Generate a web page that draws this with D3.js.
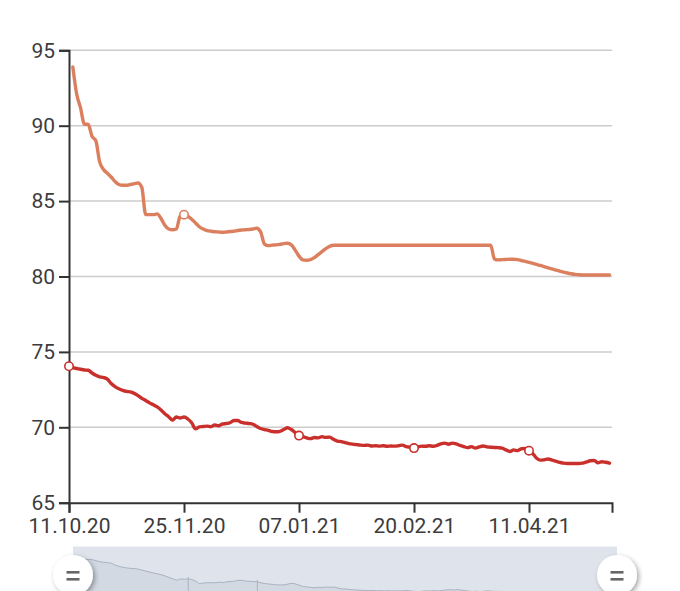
<!DOCTYPE html>
<html>
<head>
<meta charset="utf-8">
<script src="https://cdn.jsdelivr.net/npm/d3@7"></script>
<style>
  html, body { margin: 0; padding: 0; background: #fff; }
  svg { display: block; font-family: Roboto, "Noto Sans", sans-serif; }
</style>
</head>
<body>
<svg id="chart" width="680" height="591"></svg>
<script>
// ---- data ----
const tickIndex = [0, 30, 60, 90, 120];
const tickLabels = ["11.10.20", "25.11.20", "07.01.21", "20.02.21", "11.04.21"];
const xEnd = 141.65;
const yTicks = [65, 70, 75, 80, 85, 90, 95];

const seriesOrange = [null,
  93.9, 92.1, 91.2, 90.1, 90.1, 89.3, 89.0, 87.6, 87.1, 86.85,
  86.6, 86.3, 86.1, 86.05, 86.05, 86.1, 86.15, 86.2, 85.9, 84.1,
  84.1, 84.1, 84.15, 83.85, 83.4, 83.15, 83.1, 83.15, 84.0, 84.1,
  84.0, 83.8, 83.55, 83.3, 83.15, 83.05, 83.0, 82.97, 82.95, 82.93,
  82.95, 82.98, 83.0, 83.05, 83.08, 83.1, 83.12, 83.15, 83.2, 82.95,
  82.15, 82.05, 82.08, 82.1, 82.13, 82.18, 82.2, 82.1, 81.75, 81.35,
  81.1, 81.08, 81.12, 81.25, 81.45, 81.65, 81.85, 82.0, 82.07, 82.07,
  82.07, 82.07, 82.07, 82.07, 82.07, 82.07, 82.07, 82.07, 82.07, 82.07,
  82.07, 82.07, 82.07, 82.07, 82.07, 82.07, 82.07, 82.07, 82.07, 82.07,
  82.07, 82.07, 82.07, 82.07, 82.07, 82.07, 82.07, 82.07, 82.07, 82.07,
  82.07, 82.07, 82.07, 82.07, 82.07, 82.07, 82.07, 82.07, 82.07, 82.07,
  81.15, 81.1, 81.12, 81.13, 81.14, 81.14, 81.12, 81.06, 81.0,
  80.93, 80.87, 80.8, 80.73, 80.65, 80.57, 80.5, 80.43, 80.36, 80.29,
  80.23, 80.18, 80.14, 80.12, 80.1, 80.1, 80.1, 80.1, 80.1, 80.1,
  80.1, 80.1
];

const seriesRed = [
  74.05, 73.95, 73.9, 73.85, 73.8, 73.78, 73.6, 73.45, 73.35, 73.3,
  73.2, 72.9, 72.7, 72.55, 72.45, 72.38, 72.35, 72.25, 72.1, 71.92,
  71.78, 71.62, 71.5, 71.35, 71.15, 70.9, 70.7, 70.48, 70.68, 70.62,
  70.68, 70.55, 70.3, 69.9, 70.03, 70.05, 70.08, 70.04, 70.15, 70.1,
  70.22, 70.25, 70.3, 70.45, 70.45, 70.32, 70.28, 70.25, 70.2, 70.05,
  69.92, 69.85, 69.8, 69.72, 69.7, 69.73, 69.85, 69.97, 69.85, 69.65,
  69.45, 69.38, 69.3, 69.25, 69.32, 69.3, 69.38, 69.33, 69.35, 69.2,
  69.08, 69.05, 68.98, 68.92, 68.88, 68.85, 68.82, 68.8, 68.82, 68.76,
  68.78, 68.75, 68.78, 68.74, 68.76, 68.75, 68.78, 68.82, 68.72, 68.68,
  68.62, 68.7, 68.75, 68.74, 68.78, 68.74, 68.8, 68.9, 68.95, 68.88,
  68.95, 68.9, 68.8, 68.72, 68.65, 68.72, 68.62, 68.7, 68.76, 68.7,
  68.68, 68.66, 68.65, 68.62, 68.5, 68.4, 68.5, 68.45, 68.58, 68.6,
  68.45, 68.25, 67.95, 67.82, 67.85, 67.9, 67.82, 67.75, 67.68, 67.62,
  67.6, 67.6, 67.6, 67.6, 67.62, 67.7, 67.78, 67.8, 67.65, 67.72,
  67.68, 67.62
];

const markersOrange = [30];
const markersRed = [0, 60, 90, 120];
const navBreaks = [30, 48];

// ---- drawing ----
const svg = d3.select("#chart");
const x = d3.scaleLinear().domain([0, xEnd]).range([69, 612]);
const y = d3.scaleLinear().domain([65, 95]).range([502.7, 50.3]);

const colOrange = "#dc7f5f";
const colRed = "#c9302c";

// gridlines
svg.append("g").selectAll("line").data(yTicks.filter(v => v !== 65)).join("line")
  .attr("x1", x(0)).attr("x2", x(xEnd))
  .attr("y1", d => y(d)).attr("y2", d => y(d))
  .attr("stroke", "#cccccc").attr("stroke-width", 1.5);

// y axis
const yAxis = svg.append("g").attr("transform", `translate(${x(0)},0)`)
  .call(d3.axisLeft(y).tickValues(yTicks).tickSize(10).tickSizeOuter(10).tickPadding(4));
// x axis
const xAxis = svg.append("g").attr("transform", `translate(0,${y(65)})`)
  .call(d3.axisBottom(x).tickValues(tickIndex).tickFormat((d, i) => tickLabels[i])
    .tickSize(10).tickSizeOuter(10).tickPadding(5));

[yAxis, xAxis].forEach(g => {
  g.selectAll("path.domain").attr("stroke", "#333").attr("stroke-width", 2);
  g.selectAll(".tick line").attr("stroke", "#333").attr("stroke-width", 2);
  g.selectAll(".tick text").attr("fill", "#3c3c3c")
    .style("font-size", "21px").style("font-family", "Roboto, sans-serif");
});

// lines
const line = d3.line()
  .defined(d => d != null)
  .x((d, i) => x(i)).y(d => y(d))
  .curve(d3.curveMonotoneX);

svg.append("path").datum(seriesOrange)
  .attr("d", line).attr("fill", "none")
  .attr("stroke", colOrange).attr("stroke-width", 3.4)
  .attr("stroke-linejoin", "round").attr("stroke-linecap", "round");

svg.append("path").datum(seriesRed)
  .attr("d", line).attr("fill", "none")
  .attr("stroke", colRed).attr("stroke-width", 3.4)
  .attr("stroke-linejoin", "round").attr("stroke-linecap", "round");

svg.append("g").selectAll("circle").data(markersOrange).join("circle")
  .attr("cx", d => x(d)).attr("cy", d => y(seriesOrange[d]))
  .attr("r", 4.2).attr("fill", "#fff").attr("stroke", colOrange).attr("stroke-width", 1.6);
svg.append("g").selectAll("circle").data(markersRed).join("circle")
  .attr("cx", d => x(d)).attr("cy", d => y(seriesRed[d]))
  .attr("r", 4.2).attr("fill", "#fff").attr("stroke", colRed).attr("stroke-width", 1.6);

// ---- navigator ----
const defs = svg.append("defs");
const f = defs.append("filter").attr("id", "sh").attr("x", "-50%").attr("y", "-50%")
  .attr("width", "200%").attr("height", "200%");
f.append("feDropShadow").attr("dx", 2).attr("dy", 2).attr("stdDeviation", 2.5)
  .attr("flood-color", "#000").attr("flood-opacity", 0.35);

const nx = d3.scaleLinear().domain([0, xEnd]).range([73, 617]);
const ny = d3.scaleLinear().domain([67.6, 74.05]).range([598, 558]);
const nav = svg.append("g");
nav.append("rect").attr("x", 73).attr("y", 546).attr("width", 544).attr("height", 50)
  .attr("fill", "#dfe4ec");
nav.append("line").attr("x1", 73).attr("x2", 617).attr("y1", 546.5).attr("y2", 546.5)
  .attr("stroke", "#eef1f5").attr("stroke-width", 1);
const area = d3.area().x((d, i) => nx(i)).y0(600).y1(d => ny(d)).curve(d3.curveMonotoneX);
nav.append("path").datum(seriesRed).attr("d", area).attr("fill", "#d2d9e3");
const nline = d3.line().x((d, i) => nx(i)).y(d => ny(d)).curve(d3.curveMonotoneX);
nav.append("path").datum(seriesRed).attr("d", nline).attr("fill", "none")
  .attr("stroke", "#a9b2bf").attr("stroke-width", 1);
nav.selectAll("line.brk").data(navBreaks).join("line").attr("class", "brk")
  .attr("x1", d => nx(d)).attr("x2", d => nx(d))
  .attr("y1", d => ny(seriesRed[d]) - 2).attr("y2", 591)
  .attr("stroke", "#a9b2bf").attr("stroke-width", 1);

[73, 617].forEach(cx => {
  const h = nav.append("g");
  h.append("circle").attr("cx", cx).attr("cy", 575).attr("r", 20)
    .attr("fill", "#fff").attr("filter", "url(#sh)");
  [-4, 3].forEach(dy => {
    h.append("rect").attr("x", cx - 6.5).attr("y", 575 + dy).attr("width", 13).attr("height", 2.6)
      .attr("fill", "#666");
  });
});
</script>
</body>
</html>
